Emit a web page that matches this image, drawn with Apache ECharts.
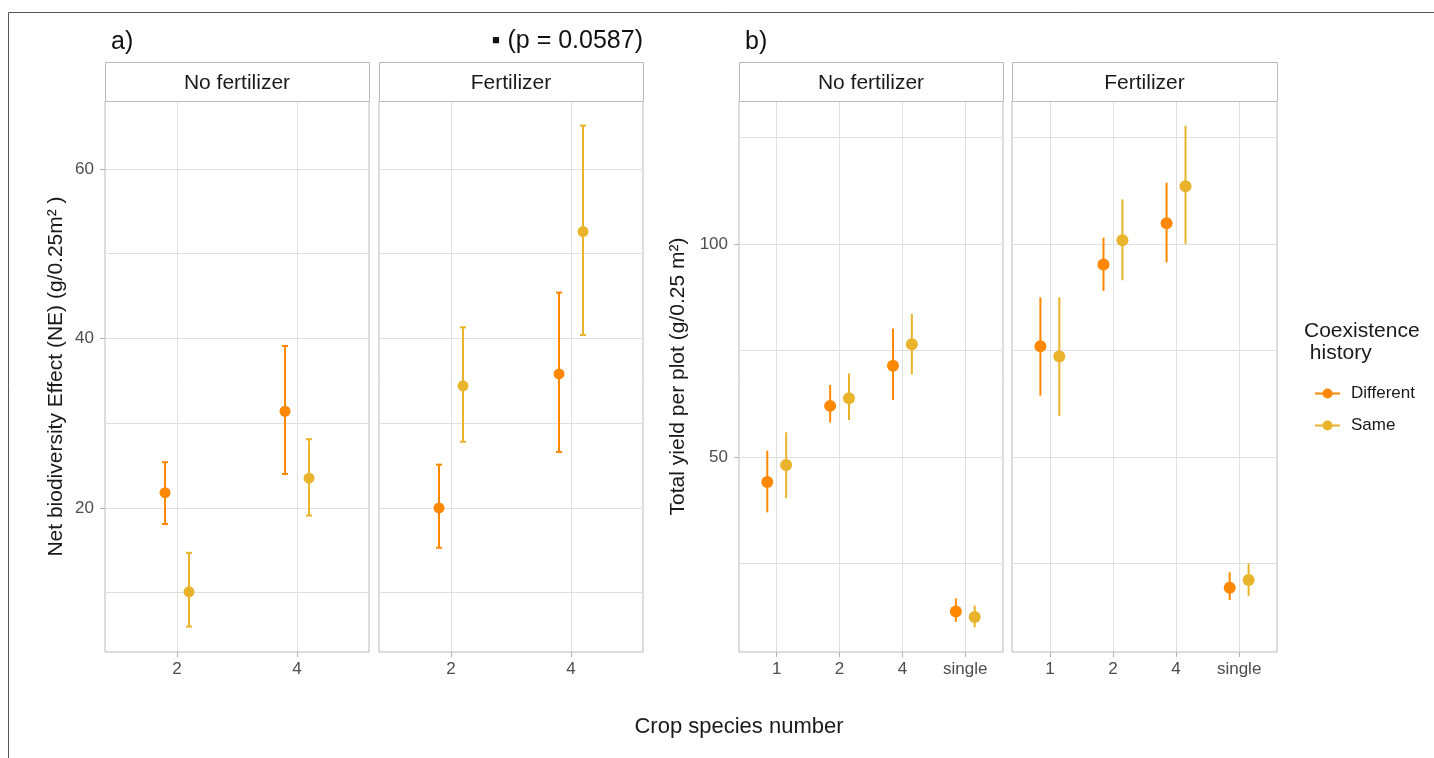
<!DOCTYPE html>
<html><head><meta charset="utf-8">
<script src="https://cdn.jsdelivr.net/npm/echarts@6/dist/echarts.min.js"></script>
<style>html,body{margin:0;padding:0;background:#fff}#c{width:1434px;height:758px}</style>
</head><body><div id="c"></div>
<script>
// ---------- data ----------
const catsA = ['2', '4'];
const catsB = ['1', '2', '4', 'single'];
const groups = ['Different', 'Same'];
const facets = ['No fertilizer', 'Fertilizer'];

// a) Net biodiversity effect
const aNoFertDiffMean = [21.8, 31.4];
const aNoFertDiffLo   = [18.1, 24.0];
const aNoFertDiffHi   = [25.4, 39.1];
const aNoFertSameMean = [10.1, 23.5];
const aNoFertSameLo   = [6.0, 19.1];
const aNoFertSameHi   = [14.7, 28.1];
const aFertDiffMean = [20.0, 35.8];
const aFertDiffLo   = [15.3, 26.6];
const aFertDiffHi   = [25.1, 45.4];
const aFertSameMean = [34.4, 52.6];
const aFertSameLo   = [27.8, 40.4];
const aFertSameHi   = [41.3, 65.1];

// b) Total yield per plot
const bNoFertDiffMean = [44.1, 62.0, 71.4, 13.7];
const bNoFertDiffLo   = [37.0, 58.1, 63.4, 11.3];
const bNoFertDiffHi   = [51.5, 66.9, 80.2, 16.8];
const bNoFertSameMean = [48.1, 63.8, 76.5, 12.4];
const bNoFertSameLo   = [40.3, 58.7, 69.4, 10.0];
const bNoFertSameHi   = [55.8, 69.6, 83.6, 15.1];
const bFertDiffMean = [76.0, 95.2, 104.9, 19.3];
const bFertDiffLo   = [64.4, 89.0, 95.7, 16.4];
const bFertDiffHi   = [87.5, 101.5, 114.4, 22.9];
const bFertSameMean = [73.6, 100.9, 113.6, 21.1];
const bFertSameLo   = [59.6, 91.5, 100.0, 17.4];
const bFertSameHi   = [87.5, 110.5, 127.8, 25.0];

const aYMajor = [20, 40, 60];
const aYMinor = [10, 30, 50];
const bYMajor = [50, 100];
const bYMinor = [25, 75, 125];
const pLabel = '▪ (p = 0.0587)';

// ---------- style ----------
const FONT = 'Liberation Sans, Arial, sans-serif';
const COLORS = {Different: '#FF8800', Same: '#E9B42C'};
const GRID_LINE = '#e0e0e0';
const BORDER = '#bababa';

const panels = [
  {left: 105, width: 264, cats: catsA, yMin: 3, yMax: 68, major: aYMajor, minor: aYMinor, showY: true,
   name: 'Net biodiversity Effect (NE) (g/0.25m² )', dodge: 0.1, cap: 3, r: 5.5,
   series: {Different: [aNoFertDiffMean, aNoFertDiffLo, aNoFertDiffHi], Same: [aNoFertSameMean, aNoFertSameLo, aNoFertSameHi]}, facet: facets[0]},
  {left: 379, width: 264, cats: catsA, yMin: 3, yMax: 68, major: aYMajor, minor: aYMinor, showY: false,
   dodge: 0.1, cap: 3, r: 5.5,
   series: {Different: [aFertDiffMean, aFertDiffLo, aFertDiffHi], Same: [aFertSameMean, aFertSameLo, aFertSameHi]}, facet: facets[1]},
  {left: 739, width: 264, cats: catsB, yMin: 4.2, yMax: 133.6, major: bYMajor, minor: bYMinor, showY: true,
   name: 'Total yield per plot (g/0.25 m²)', dodge: 0.15, cap: 0, r: 6,
   series: {Different: [bNoFertDiffMean, bNoFertDiffLo, bNoFertDiffHi], Same: [bNoFertSameMean, bNoFertSameLo, bNoFertSameHi]}, facet: facets[0]},
  {left: 1012, width: 265, cats: catsB, yMin: 4.2, yMax: 133.6, major: bYMajor, minor: bYMinor, showY: false,
   dodge: 0.15, cap: 0, r: 6,
   series: {Different: [bFertDiffMean, bFertDiffLo, bFertDiffHi], Same: [bFertSameMean, bFertSameLo, bFertSameHi]}, facet: facets[1]}
];
const TOP = 101, HEIGHT = 551, STRIP_TOP = 62;

function makeRender(color, cap, r) {
  return function (params, api) {
    const x = api.value(0), y = api.value(1), lo = api.value(2), hi = api.value(3);
    const pm = api.coord([x, y]), pl = api.coord([x, lo]), ph = api.coord([x, hi]);
    const st = {stroke: color, lineWidth: 2};
    const ch = [{type: 'line', shape: {x1: pl[0], y1: pl[1], x2: ph[0], y2: ph[1]}, style: st}];
    if (cap > 0) {
      ch.push({type: 'line', shape: {x1: pl[0] - cap, y1: pl[1], x2: pl[0] + cap, y2: pl[1]}, style: st});
      ch.push({type: 'line', shape: {x1: ph[0] - cap, y1: ph[1], x2: ph[0] + cap, y2: ph[1]}, style: st});
    }
    ch.push({type: 'circle', shape: {cx: pm[0], cy: pm[1], r: r}, style: {fill: color}});
    return {type: 'group', children: ch};
  };
}

const grid = [], xAxis = [], yAxis = [], series = [], graphic = [];
panels.forEach((p, i) => {
  grid.push({left: p.left, top: TOP, width: p.width, height: HEIGHT, show: true,
    borderColor: BORDER, borderWidth: 1, backgroundColor: 'transparent', outerBoundsMode: 'none'});
  const n = p.cats.length;
  const pos = p.cats.map((c, k) => k + 1);
  xAxis.push({type: 'value', gridIndex: i, min: 0.4, max: n + 0.6,
    axisLine: {show: false},
    axisTick: {show: true, customValues: pos, length: 5, lineStyle: {color: '#b3b3b3'}},
    axisLabel: {show: true, customValues: pos, margin: 9, color: '#4d4d4d', fontSize: 17, fontFamily: FONT,
      formatter: v => p.cats[Math.round(v) - 1]},
    splitLine: {show: true, lineStyle: {color: GRID_LINE, width: 1}}
  });
  yAxis.push({type: 'value', gridIndex: i, min: p.yMin, max: p.yMax, position: 'left',
    axisLine: {show: false},
    axisTick: {show: p.showY, customValues: p.major, length: 5, lineStyle: {color: '#b3b3b3'}},
    axisLabel: {show: p.showY, customValues: p.major, margin: 11, color: '#4d4d4d', fontSize: 17, fontFamily: FONT},
    splitLine: {show: true, lineStyle: {color: GRID_LINE, width: 1}},
    name: p.showY ? p.name : '', nameLocation: 'middle', nameGap: i === 0 ? 38 : 50, nameRotate: 90,
    nameTextStyle: {fontSize: 21, color: '#1a1a1a', fontFamily: FONT}
  });
  // strip
  graphic.push({type: 'rect', shape: {x: p.left + 0.5, y: STRIP_TOP + 0.5, width: p.width, height: TOP - STRIP_TOP},
    style: {fill: '#fff', stroke: BORDER, lineWidth: 1}, z: 10});
  graphic.push({type: 'text', x: p.left + p.width / 2, y: (STRIP_TOP + TOP) / 2 + 2,
    style: {text: p.facet, align: 'center', verticalAlign: 'middle', textAlign: 'center', textVerticalAlign: 'middle',
      fontSize: 21, fontFamily: FONT, fill: '#1a1a1a'}, z: 11});
});
// minor grid axes
panels.forEach((p, i) => {
  yAxis.push({type: 'value', gridIndex: i, min: p.yMin, max: p.yMax, position: 'right',
    axisLine: {show: false}, axisLabel: {show: false, customValues: p.minor},
    axisTick: {show: false, customValues: p.minor},
    splitLine: {show: true, lineStyle: {color: GRID_LINE, width: 1}}});
});
panels.forEach((p, i) => {
  groups.forEach((g, gi) => {
    const [mean, lo, hi] = p.series[g];
    const off = gi === 0 ? -p.dodge : p.dodge;
    series.push({type: 'custom', name: g, xAxisIndex: i, yAxisIndex: i,
      itemStyle: {color: COLORS[g]},
      encode: {x: 0, y: [1, 2, 3]},
      renderItem: makeRender(COLORS[g], p.cap, p.r),
      data: p.cats.map((c, k) => [k + 1 + off, mean[k], lo[k], hi[k]]),
      z: 5});
  });
});

// titles & labels
graphic.push({type: 'text', x: 111, y: 42, style: {text: 'a)', verticalAlign: 'middle', textVerticalAlign: 'middle',
  fontSize: 25, fontFamily: FONT, fill: '#111'}});
graphic.push({type: 'text', x: 745, y: 42, style: {text: 'b)', verticalAlign: 'middle', textVerticalAlign: 'middle',
  fontSize: 25, fontFamily: FONT, fill: '#111'}});
graphic.push({type: 'text', x: 643, y: 41, style: {text: pLabel, align: 'right', textAlign: 'right',
  verticalAlign: 'middle', textVerticalAlign: 'middle', fontSize: 25, fontFamily: FONT, fill: '#111'}});
graphic.push({type: 'text', x: 739, y: 727, style: {text: 'Crop species number', align: 'center', textAlign: 'center',
  verticalAlign: 'middle', textVerticalAlign: 'middle', fontSize: 22, fontFamily: FONT, fill: '#1a1a1a'}});
graphic.push({type: 'text', x: 1304, y: 320, style: {text: 'Coexistence\n history', lineHeight: 22,
  verticalAlign: 'top', textVerticalAlign: 'top', fontSize: 21, fontFamily: FONT, fill: '#1a1a1a'}});
// frame
graphic.push({type: 'line', shape: {x1: 8.5, y1: 12.5, x2: 8.5, y2: 758}, style: {stroke: '#555', lineWidth: 1}});
graphic.push({type: 'line', shape: {x1: 8.5, y1: 12.5, x2: 1434, y2: 12.5}, style: {stroke: '#555', lineWidth: 1}});

const ICON = 'path://M0,4L25,4L25,6L0,6Z M12.5,0A5,5 0 1,1 12.5,10A5,5 0 1,1 12.5,0Z';
const option = {
  animation: false,
  backgroundColor: '#fff',
  grid, xAxis, yAxis, series, graphic,
  legend: {show: true, orient: 'vertical', left: 1310, top: 380, itemWidth: 25, itemHeight: 10, itemGap: 15,
    data: groups.map(g => ({name: g, icon: ICON})),
    textStyle: {fontSize: 17, color: '#1a1a1a', fontFamily: FONT, padding: [0, 0, 0, 6]},
    selectedMode: false}
};
const chart = echarts.init(document.getElementById('c'));
chart.setOption(option);
</script></body></html>
